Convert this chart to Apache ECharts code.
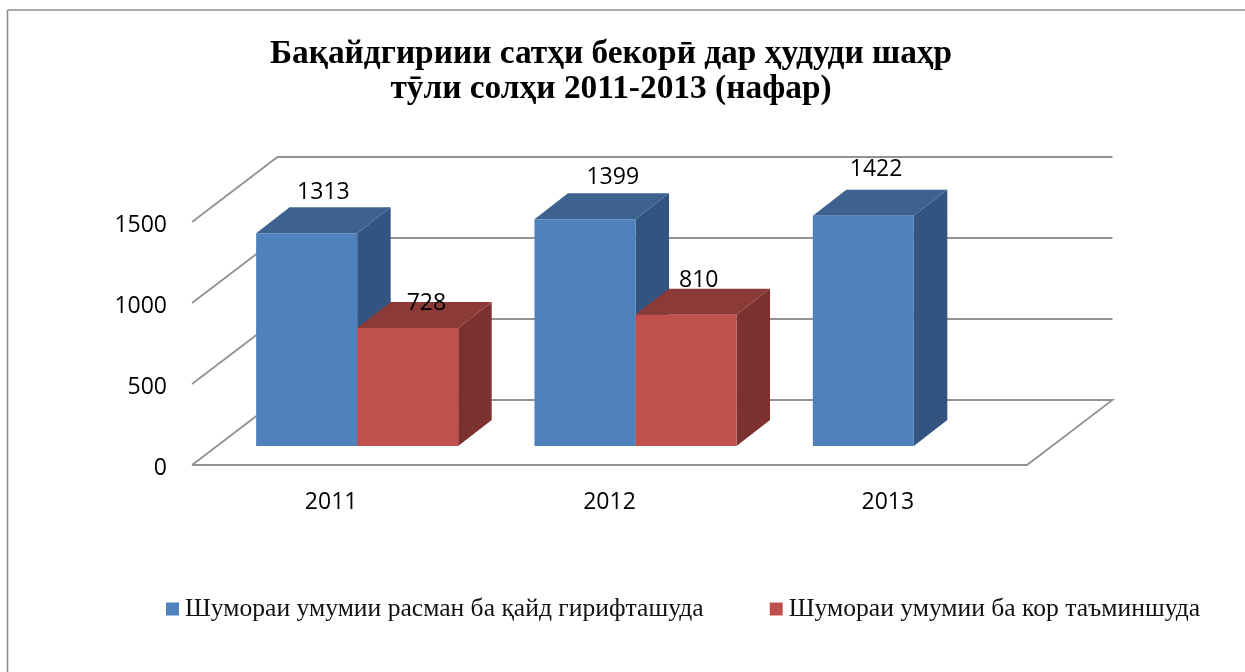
<!DOCTYPE html>
<html>
<head>
<meta charset="utf-8" />
<title>chart</title>
<script src="https://cdn.jsdelivr.net/npm/echarts@6/dist/echarts.min.js"></script>
<style>
html, body { margin: 0; padding: 0; background: #fff; }
#chart { width: 1245px; height: 672px; }
</style>
</head>
<body>
<div id="chart"></div>
<script>
const years = ["2011", "2012", "2013"];
const registered = [1313, 1399, 1422];
const employed = [728, 810, null];
const wallTicks = [0, 500, 1000, 1500];
const titleText = "Бақайдгириии сатҳи бекорӣ дар ҳудуди шаҳр\nтӯли солҳи 2011-2013 (нафар)";
const registeredName = "Шумораи умумии расман ба қайд гирифташуда";
const employedName = "Шумораи умумии ба кор таъминшуда";

// pseudo 3d: box depth in pixels, the floor runs back further than the bars
const FLOOR_DX = 85.5;
const FLOOR_DY = -65;
const BAR_SHIFT_X = 26;
const BAR_SHIFT_Y = -19;
const DEPTH_X = 33.5;
const DEPTH_Y = -26;
const BAR_RATIO = 0.363;
const LINE_COLOR = "#939393";
const NUM_FONT = "Open Sans";
const NUM_SIZE = 23;

// hand placed data labels in the original, offset from the top face centre
const registeredLabelShift = [[0, -15], [11, -16], [-4, -20]];
const employedLabelShift = [[2, 1], [-4, -8], [0, 0]];

function wallItem(params, api) {
  const rect = params.coordSys;
  const y = api.coord([0, api.value(0)])[1];
  const x0 = rect.x;
  const x1 = x0 + FLOOR_DX;
  const x2 = rect.x + rect.width + FLOOR_DX;
  const points = [[x0, y], [x1, y + FLOOR_DY], [x2, y + FLOOR_DY]];
  if (api.value(0) === 0) {
    // floor gets closed along the front
    points.push([rect.x + rect.width, y], [x0, y]);
  }
  return {
    type: "polyline",
    shape: { points: points },
    style: { stroke: LINE_COLOR, lineWidth: 1.8, fill: null },
    silent: true,
  };
}

function boxItem(groupIndex, colors, labelShift) {
  return function (params, api) {
    const value = api.value(1);
    if (value === null || isNaN(value)) {
      return null;
    }
    const cat = api.value(0);
    const top = api.coord([cat, value]);
    const base = api.coord([cat, 0]);
    const width = api.size([1, 0])[0] * BAR_RATIO;
    const left = top[0] + BAR_SHIFT_X + (groupIndex - 1) * width;
    const right = left + width;
    const topY = top[1] + BAR_SHIFT_Y;
    const baseY = base[1] + BAR_SHIFT_Y;
    const shift = labelShift[params.dataIndex];
    return {
      type: "group",
      children: [
        {
          type: "polygon",
          shape: { points: [[right, topY], [right + DEPTH_X, topY + DEPTH_Y], [right + DEPTH_X, baseY + DEPTH_Y], [right, baseY]] },
          style: { fill: colors.side },
        },
        {
          type: "polygon",
          shape: { points: [[left, topY], [left + DEPTH_X, topY + DEPTH_Y], [right + DEPTH_X, topY + DEPTH_Y], [right, topY]] },
          style: { fill: colors.top },
        },
        {
          type: "rect",
          shape: { x: left, y: topY, width: width, height: baseY - topY },
          style: { fill: colors.front },
        },
        {
          type: "text",
          z2: 10,
          style: {
            x: left + width / 2 + DEPTH_X / 2 + shift[0],
            y: topY + DEPTH_Y + shift[1],
            text: String(value),
            align: "center",
            verticalAlign: "middle",
            fill: "#000",
            font: NUM_SIZE + "px '" + NUM_FONT + "'",
          },
        },
      ],
    };
  };
}

const option = {
  backgroundColor: "#fff",
  animation: false,
  title: {
    text: titleText,
    left: 606,
    top: 32,
    textAlign: "center",
    textStyle: {
      fontFamily: "Liberation Serif",
      fontWeight: "bold",
      fontSize: 33.4,
      lineHeight: 35,
      color: "#000",
    },
  },
  legend: {
    data: [registeredName, employedName],
    left: 161,
    top: 591,
    icon: "rect",
    itemWidth: 13,
    itemHeight: 13,
    itemGap: 66,
    textStyle: {
      fontFamily: "Liberation Serif",
      fontSize: 25.6,
      color: "#111",
      padding: [0, 0, 0, 1],
    },
  },
  grid: {
    left: 192,
    top: 222,
    width: 835,
    height: 243,
  },
  xAxis: {
    type: "category",
    data: years,
    axisLine: { show: false },
    axisTick: { show: false },
    axisLabel: {
      margin: 26,
      fontFamily: NUM_FONT,
      fontSize: NUM_SIZE,
      color: "#000",
    },
  },
  yAxis: {
    type: "value",
    min: 0,
    max: 1500,
    interval: 500,
    axisLine: { show: false },
    axisTick: { show: false },
    splitLine: { show: false },
    axisLabel: {
      margin: 25,
      formatter: (v) => "{n|" + v + "}",
      rich: {
        n: {
          fontFamily: NUM_FONT,
          fontSize: NUM_SIZE,
          color: "#000",
          padding: [7, 0, 0, 0],
        },
      },
    },
  },
  graphic: [
    { type: "line", shape: { x1: 7.5, y1: 10, x2: 7.5, y2: 672 }, style: { stroke: "#8c8c8c", lineWidth: 1.6 } },
    { type: "line", shape: { x1: 7.5, y1: 10, x2: 1245, y2: 10 }, style: { stroke: "#8c8c8c", lineWidth: 1.6 } },
  ],
  series: [
    {
      type: "custom",
      name: "walls",
      renderItem: wallItem,
      encode: { y: 0 },
      data: wallTicks.map((t) => [t]),
      silent: true,
    },
    {
      type: "custom",
      name: registeredName,
      itemStyle: { color: "#4F81BD" },
      renderItem: boxItem(0, { front: "#4F81BD", side: "#335480", top: "#3D6290" }, registeredLabelShift),
      encode: { x: 0, y: 1 },
      data: years.map((y, i) => [i, registered[i]]),
    },
    {
      type: "custom",
      name: employedName,
      itemStyle: { color: "#C0504D" },
      renderItem: boxItem(1, { front: "#C0504D", side: "#7D312F", top: "#8C3A38" }, employedLabelShift),
      encode: { x: 0, y: 1 },
      data: years.map((y, i) => [i, employed[i]]),
    },
  ],
};

const myChart = echarts.init(document.getElementById("chart"));
myChart.setOption(option);
</script>
</body>
</html>
